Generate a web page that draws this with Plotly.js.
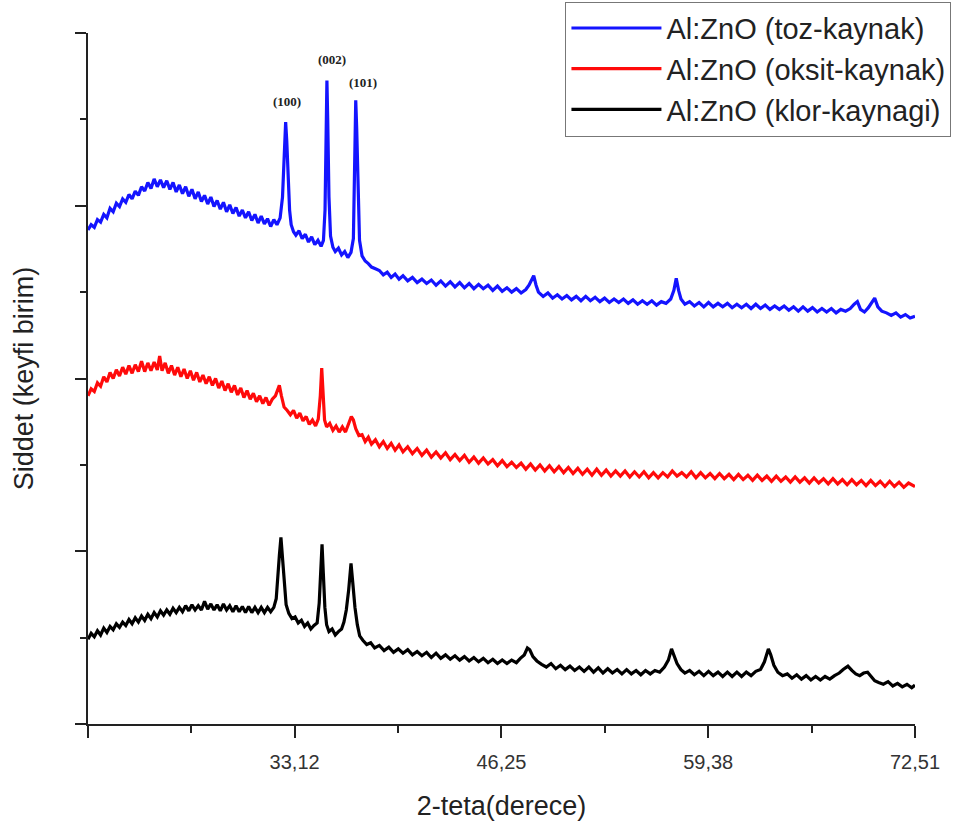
<!DOCTYPE html>
<html>
<head>
<meta charset="utf-8">
<script src="https://cdn.plot.ly/plotly-3.0.1.min.js"></script>
<style>html,body{margin:0;padding:0;background:#fff;}#chart{width:960px;height:831px;}</style>
</head>
<body>
<div id="chart"></div>
<script>
// Series names
const seriesNames = ["Al:ZnO (toz-kaynak)", "Al:ZnO (oksit-kaynak)", "Al:ZnO (klor-kaynagi)"];

// Al:ZnO (toz-kaynak) - blue (2-theta in degrees, intensity in arbitrary units)
const blueX = [20.00,20.20,20.40,20.60,20.80,21.00,21.20,21.40,21.60,21.80,22.00,22.20,22.40,22.60,22.80,23.00,23.20,23.40,23.60,23.80,24.00,24.20,24.40,24.60,24.80,25.00,25.20,25.40,25.60,25.80,26.00,26.20,26.40,26.60,26.80,27.00,27.20,27.40,27.60,27.80,28.00,28.20,28.40,28.60,28.80,29.00,29.20,29.40,29.60,29.80,30.00,30.20,30.40,30.60,30.80,31.00,31.20,31.40,31.60,31.80,32.00,
  32.20,32.35,32.45,32.55,32.62,32.70,32.80,32.90,33.05,33.20,33.40,33.60,33.80,34.00,34.20,34.40,34.60,34.80,34.95,35.05,35.12,35.17,35.22,35.30,35.40,35.55,35.70,35.90,36.10,36.30,36.50,36.70,36.85,36.93,37.00,37.06,37.14,37.24,
  37.40,37.60,37.80,38.00,38.25,38.50,38.75,39.00,39.25,39.50,39.75,40.00,40.30,40.60,40.90,41.20,41.50,41.80,42.10,42.40,42.70,43.00,43.30,43.60,43.90,44.20,44.50,44.80,45.10,45.40,45.70,46.00,46.30,46.60,46.90,47.20,47.50,47.80,48.00,48.15,48.30,48.45,48.60,48.90,
  49.20,49.50,49.80,50.10,50.40,50.70,51.00,51.30,51.60,51.90,52.20,52.50,52.80,53.10,53.40,53.70,54.00,54.30,54.60,54.90,55.20,55.50,55.80,56.10,56.40,56.70,57.00,57.20,57.35,57.50,57.65,57.90,58.20,58.50,58.80,59.10,59.40,59.70,60.00,60.30,60.60,60.90,61.20,61.50,61.80,62.10,62.40,62.70,63.00,63.30,63.60,63.90,64.20,64.50,64.80,65.10,65.40,65.70,66.00,66.30,66.60,66.90,67.20,67.50,67.80,68.10,68.40,68.65,68.85,69.05,69.30,69.55,69.75,69.95,70.15,70.40,70.70,71.00,71.30,71.60,71.90,72.20,72.51];
const blueY = [5.72,5.78,5.75,5.84,5.81,5.90,5.86,5.97,5.93,6.03,5.99,6.08,6.04,6.13,6.08,6.17,6.12,6.22,6.17,6.27,6.20,6.31,6.22,6.30,6.21,6.29,6.19,6.27,6.16,6.24,6.14,6.22,6.11,6.19,6.08,6.16,6.05,6.12,6.02,6.10,5.99,6.06,5.96,6.04,5.93,6.01,5.91,5.98,5.88,5.95,5.86,5.93,5.83,5.90,5.80,5.88,5.79,5.85,5.76,5.84,5.78,
  5.86,6.10,6.60,6.97,6.75,6.30,5.95,5.78,5.70,5.66,5.71,5.62,5.67,5.58,5.64,5.55,5.60,5.53,5.60,5.95,6.80,7.45,7.00,6.10,5.65,5.52,5.47,5.51,5.43,5.47,5.40,5.46,5.62,6.40,7.22,6.90,6.10,5.60,
  5.42,5.36,5.33,5.29,5.27,5.25,5.20,5.23,5.17,5.21,5.15,5.19,5.13,5.17,5.11,5.15,5.10,5.14,5.08,5.13,5.07,5.12,5.06,5.11,5.05,5.10,5.04,5.09,5.04,5.08,5.02,5.07,5.01,5.05,5.00,5.04,4.99,5.03,5.08,5.13,5.19,5.08,5.00,4.95,
  4.99,4.93,4.97,4.92,4.96,4.91,4.95,4.90,4.95,4.90,4.94,4.89,4.93,4.88,4.92,4.88,4.92,4.87,4.91,4.86,4.90,4.86,4.90,4.85,4.89,4.87,4.92,5.02,5.16,5.02,4.92,4.86,4.89,4.84,4.88,4.83,4.88,4.83,4.87,4.83,4.87,4.82,4.86,4.82,4.86,4.81,4.86,4.81,4.85,4.80,4.84,4.80,4.84,4.79,4.83,4.78,4.83,4.78,4.82,4.77,4.81,4.77,4.81,4.76,4.80,4.78,4.81,4.86,4.89,4.80,4.77,4.82,4.87,4.93,4.83,4.78,4.76,4.73,4.76,4.71,4.74,4.70,4.72];

// Al:ZnO (oksit-kaynak) - red
const redX = [20.00,20.20,20.40,20.60,20.80,21.00,21.20,21.40,21.60,21.80,22.00,22.20,22.40,22.60,22.80,23.00,23.20,23.40,23.60,23.80,24.00,24.20,24.40,24.55,24.70,24.90,25.10,25.30,25.50,25.70,25.90,26.10,26.30,26.50,26.70,26.90,27.10,27.30,27.50,27.70,27.90,28.10,28.30,28.50,28.70,28.90,29.10,29.30,29.50,29.70,29.90,30.10,30.30,30.50,30.70,30.90,31.10,31.30,31.50,31.70,31.90,
  32.05,32.15,32.28,32.45,32.65,32.85,33.05,33.25,33.45,33.65,33.85,34.05,34.25,34.45,34.62,34.75,34.84,34.92,35.02,35.15,35.35,35.55,35.75,35.95,36.15,36.35,36.55,36.72,36.85,37.00,37.20,37.40,37.60,37.80,38.00,38.25,38.50,38.75,39.00,39.25,39.50,39.75,40.00,40.30,40.60,40.90,41.20,41.50,41.80,42.10,42.40,42.70,43.00,43.30,43.60,43.90,44.20,44.50,44.80,45.10,45.40,45.70,46.00,46.30,46.60,46.90,47.20,47.50,47.80,48.10,48.40,48.70,49.00,49.30,49.60,49.90,50.20,50.50,50.80,51.10,51.40,51.70,52.00,52.30,52.60,52.90,53.20,53.50,53.80,54.10,54.40,54.70,55.00,55.30,55.60,55.90,56.20,56.50,56.80,57.10,57.40,57.70,
  58.00,58.30,58.60,58.90,59.20,59.50,59.80,60.10,60.40,60.70,61.00,61.30,61.60,61.90,62.20,62.50,62.80,63.10,63.40,63.70,64.00,64.30,64.60,64.90,65.20,65.50,65.80,66.10,66.40,66.70,67.00,67.30,67.60,67.90,68.20,68.50,68.80,69.10,69.40,69.70,70.00,70.30,70.60,70.90,71.20,71.50,71.80,72.10,72.51];
const redY = [3.80,3.88,3.85,3.95,3.91,4.02,3.96,4.07,4.00,4.10,4.03,4.13,4.05,4.15,4.06,4.16,4.08,4.20,4.08,4.18,4.09,4.19,4.10,4.26,4.09,4.18,4.06,4.15,4.04,4.13,4.02,4.11,4.00,4.09,3.98,4.07,3.96,4.04,3.94,4.02,3.92,4.00,3.89,3.97,3.86,3.94,3.84,3.92,3.81,3.89,3.78,3.86,3.76,3.83,3.73,3.80,3.71,3.78,3.69,3.76,3.80,
  3.88,3.92,3.80,3.67,3.63,3.58,3.63,3.54,3.60,3.51,3.56,3.47,3.52,3.45,3.53,3.80,4.12,3.85,3.52,3.44,3.48,3.40,3.45,3.38,3.44,3.38,3.47,3.56,3.52,3.42,3.34,3.35,3.27,3.32,3.24,3.29,3.21,3.27,3.19,3.25,3.17,3.23,3.15,3.21,3.13,3.19,3.11,3.17,3.09,3.15,3.08,3.14,3.06,3.12,3.05,3.11,3.03,3.09,3.02,3.08,3.01,3.06,2.99,3.05,2.98,3.03,2.97,3.02,2.95,3.01,2.94,3.00,2.93,2.99,2.92,2.98,2.91,2.97,2.90,2.96,2.89,2.95,2.88,2.95,2.88,2.94,2.87,2.93,2.87,2.93,2.86,2.92,2.86,2.92,2.85,2.91,2.85,2.91,2.86,2.93,2.87,2.91,
  2.86,2.92,2.85,2.91,2.85,2.90,2.84,2.90,2.84,2.89,2.83,2.89,2.83,2.88,2.82,2.88,2.82,2.87,2.81,2.87,2.81,2.86,2.80,2.86,2.80,2.85,2.79,2.85,2.79,2.84,2.78,2.84,2.78,2.83,2.77,2.83,2.77,2.82,2.76,2.82,2.76,2.81,2.75,2.81,2.75,2.80,2.74,2.79,2.75];

// Al:ZnO (klor-kaynagi) - black
const blackX = [20.00,20.20,20.40,20.60,20.80,21.00,21.20,21.40,21.60,21.80,22.00,22.20,22.40,22.60,22.80,23.00,23.20,23.40,23.60,23.80,24.00,24.20,24.40,24.60,24.80,25.00,25.20,25.40,25.60,25.80,26.00,26.20,26.40,26.60,26.80,27.00,27.20,27.40,27.60,27.80,28.00,28.20,28.40,28.60,28.80,29.00,29.20,29.40,29.60,29.80,30.00,30.20,30.40,30.60,30.80,31.00,31.20,31.40,31.60,31.80,
  31.95,32.05,32.15,32.25,32.35,32.45,32.58,32.75,32.95,33.15,33.35,33.55,33.75,33.95,34.15,34.35,34.55,34.68,34.78,34.86,34.94,35.04,35.15,35.30,35.50,35.70,35.90,36.10,36.25,36.40,36.55,36.70,36.82,36.95,37.10,37.25,37.45,37.70,37.95,38.20,38.50,38.80,39.10,39.40,39.70,40.00,40.30,40.60,40.90,41.20,41.50,41.80,42.10,42.40,42.70,43.00,43.30,43.60,43.90,44.20,44.50,44.80,45.10,45.40,45.70,46.00,46.30,46.60,46.90,47.20,47.45,47.70,47.90,48.05,48.25,48.50,48.80,
  49.10,49.40,49.70,50.00,50.30,50.60,50.90,51.20,51.50,51.80,52.10,52.40,52.70,53.00,53.30,53.60,53.90,54.20,54.50,54.80,55.10,55.40,55.70,56.00,56.30,56.60,56.85,57.05,57.20,57.40,57.65,57.90,58.20,58.50,58.80,59.10,59.40,59.70,60.00,60.30,60.60,60.90,61.20,61.50,61.80,62.10,62.40,62.70,62.95,63.20,63.35,63.55,63.80,64.10,64.40,64.70,65.00,65.30,65.60,65.90,66.20,66.50,66.80,67.10,67.40,67.70,67.95,68.25,68.50,68.75,69.00,69.25,69.50,69.70,69.95,70.20,70.50,70.80,71.10,71.40,71.70,72.00,72.30,72.51];
const blackY = [0.98,1.05,1.01,1.08,1.03,1.11,1.06,1.13,1.09,1.16,1.12,1.18,1.14,1.21,1.16,1.23,1.18,1.25,1.20,1.27,1.22,1.29,1.24,1.31,1.26,1.32,1.27,1.34,1.29,1.35,1.30,1.37,1.31,1.38,1.32,1.37,1.32,1.42,1.33,1.39,1.32,1.38,1.31,1.39,1.32,1.37,1.30,1.37,1.30,1.36,1.29,1.36,1.29,1.35,1.29,1.35,1.29,1.35,1.30,1.35,
  1.45,1.65,1.95,2.16,1.92,1.60,1.38,1.28,1.22,1.24,1.17,1.20,1.13,1.17,1.10,1.14,1.17,1.40,1.80,2.08,1.75,1.35,1.15,1.07,1.10,1.03,1.07,1.10,1.18,1.32,1.55,1.86,1.62,1.35,1.15,1.02,0.97,0.92,0.94,0.88,0.91,0.85,0.89,0.83,0.87,0.82,0.86,0.80,0.84,0.79,0.83,0.77,0.82,0.76,0.80,0.75,0.79,0.74,0.78,0.73,0.77,0.72,0.76,0.71,0.75,0.70,0.74,0.70,0.74,0.71,0.76,0.80,0.88,0.86,0.78,0.73,0.69,
  0.66,0.70,0.64,0.68,0.63,0.67,0.62,0.66,0.61,0.66,0.60,0.65,0.59,0.64,0.59,0.63,0.58,0.63,0.58,0.62,0.57,0.62,0.58,0.62,0.60,0.66,0.74,0.87,0.80,0.70,0.63,0.59,0.62,0.57,0.61,0.56,0.61,0.56,0.60,0.55,0.60,0.55,0.60,0.55,0.60,0.56,0.61,0.63,0.72,0.87,0.80,0.68,0.60,0.56,0.58,0.53,0.57,0.52,0.56,0.51,0.55,0.51,0.55,0.52,0.56,0.59,0.63,0.67,0.62,0.58,0.56,0.59,0.60,0.55,0.50,0.48,0.46,0.49,0.44,0.47,0.43,0.46,0.42,0.45];

// Peak labels
const peakLabels = ["(100)", "(002)", "(101)"];
const peakLabelX = [32.63, 35.49, 37.46];
const peakLabelY = [7.21, 7.69, 7.43];

// Axis ticks
const xTickVals = [20, 33.12, 46.25, 59.38, 72.51];
const xTickText = ["", "33,12", "46,25", "59,38", "72,51"];
const xMinorVals = [26.565, 39.685, 52.815, 65.945];
const yTickVals = [0, 2, 4, 6, 8];
const yMinorVals = [1, 3, 5, 7];

const colors = ["#1414ff", "#ff0a0a", "#000000"];

const traces = [
  {x: blueX, y: blueY, name: seriesNames[0], legendgroup: "a", mode: "lines", line: {color: colors[0], width: 3.2}},
  {x: redX, y: redY, name: seriesNames[1], legendgroup: "b", mode: "lines", line: {color: colors[1], width: 3.2}},
  {x: blackX, y: blackY, name: seriesNames[2], legendgroup: "c", mode: "lines", line: {color: colors[2], width: 3.2}}
];

const font = "Liberation Sans, Arial, sans-serif";

const layout = {
  width: 960, height: 831,
  margin: {l: 88, r: 45, t: 33, b: 107, autoexpand: false},
  paper_bgcolor: "#fff", plot_bgcolor: "#fff",
  showlegend: true,
  legend: {
    xref: "container", yref: "container",
    x: 0.589, y: 0.998, xanchor: "left", yanchor: "top",
    bgcolor: "#fff", bordercolor: "#777", borderwidth: 1,
    font: {family: font, size: 29, color: "#222"},
    itemwidth: 90,
    traceorder: "grouped", tracegroupgap: 0
  },
  xaxis: {
    range: [20, 72.51], showline: true, linecolor: "#222", linewidth: 2,
    showgrid: false, zeroline: false,
    tickmode: "array", tickvals: xTickVals, ticktext: xTickText,
    ticks: "outside", ticklen: 12, tickwidth: 2, tickcolor: "#222",
    ticklabelstandoff: 7,
    minor: {tickmode: "array", tickvals: xMinorVals, ticks: "outside", ticklen: 7, tickwidth: 2, tickcolor: "#222"},
    tickfont: {family: font, size: 20, color: "#333"},
    title: {text: "2-teta(derece)", font: {family: font, size: 27, color: "#222"}, standoff: 24},
    automargin: false
  },
  yaxis: {
    range: [0, 8], showline: true, linecolor: "#222", linewidth: 2,
    showgrid: false, zeroline: false,
    tickmode: "array", tickvals: yTickVals, showticklabels: false,
    ticks: "outside", ticklen: 11, tickwidth: 2, tickcolor: "#222",
    minor: {tickmode: "array", tickvals: yMinorVals, ticks: "outside", ticklen: 6, tickwidth: 2, tickcolor: "#222"},
    title: {text: "Siddet (keyfi birim)", font: {family: font, size: 27, color: "#222"}, standoff: 34},
    automargin: false
  },
  annotations: peakLabels.map((t, i) => ({
    x: peakLabelX[i], y: peakLabelY[i], xref: "x", yref: "y", text: "<b>" + t + "</b>",
    showarrow: false, font: {family: "Liberation Serif, Times New Roman, serif", size: 13, color: "#222"}
  }))
};

Plotly.newPlot("chart", traces, layout, {displayModeBar: false, staticPlot: true});
</script>
</body>
</html>
